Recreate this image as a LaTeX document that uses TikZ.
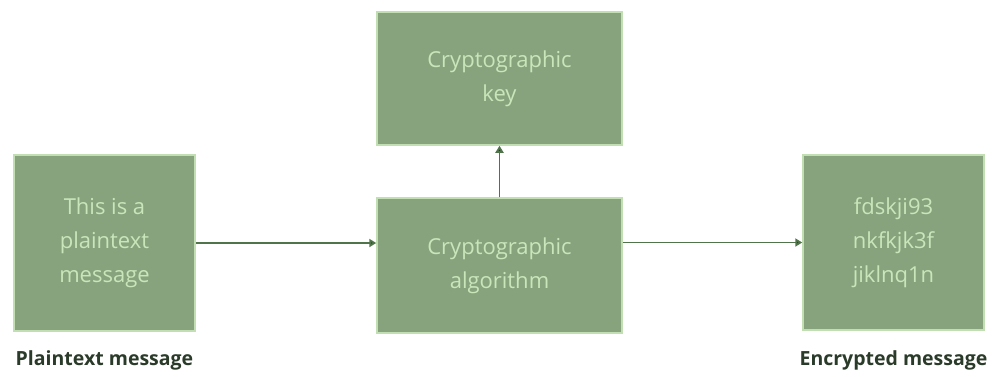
\documentclass[tikz,border=0pt]{standalone}
\usepackage{fontspec}
\setmainfont{Open Sans}
\usetikzlibrary{arrows.meta}
\definecolor{boxfill}{HTML}{86A37E}
\definecolor{boxline}{HTML}{C2DEB3}
\definecolor{boxtext}{HTML}{C9E6BA}
\definecolor{arrowc}{HTML}{4F7449}
\definecolor{labelc}{HTML}{2B3B2A}
\tikzset{
  gbox/.style={draw=boxline, line width=1.5pt, fill=boxfill, rectangle, text=boxtext,
    align=center, font=\fontsize{22}{34}\selectfont, inner sep=0pt},
  conn/.style={draw=arrowc, line width=1.8pt, -{Triangle[length=7pt,width=8pt,fill=labelc]}},
  caption/.style={text=labelc, font=\bfseries\fontsize{19.5}{22}\selectfont}
}
\begin{document}
\begin{tikzpicture}[x=1pt,y=-1pt]
\useasboundingbox (0,0) rectangle (992,376);
\node[gbox, minimum width=181pt, minimum height=176pt] (plain) at (104.5,243) {This is a\\plaintext\\message};
\node[gbox, minimum width=245pt, minimum height=133pt] (key) at (499.5,78.5) {Cryptographic\\key};
\node[gbox, minimum width=245pt, minimum height=135pt] (algo) at (499.5,265.5) {Cryptographic\\algorithm};
\node[gbox, minimum width=181pt, minimum height=175pt] (enc) at (893.5,242.5) {fdskji93\\nkfkjk3f\\jiklnq1n};
\node[caption] (lplain) at (104.5,360) {Plaintext message};
\node[caption] (lenc) at (893.5,360) {Encrypted message};
\draw[conn] (plain.east) -- (algo.west |- plain.east);
\draw[conn] (algo.north) -- (key.south);
\draw[conn] (algo.east |- enc.west) -- (enc.west);
\end{tikzpicture}
\end{document}
